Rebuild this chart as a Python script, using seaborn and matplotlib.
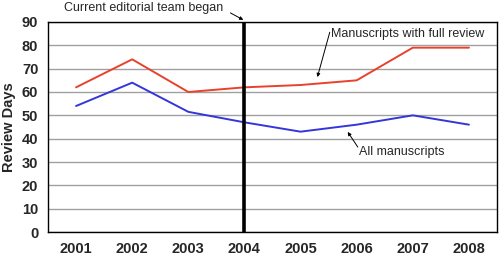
import numpy as np
import pandas as pd
import seaborn as sns
import matplotlib.pyplot as plt

## values
years = ["2001", "2002", "2003", "2004", "2005", "2006", "2007", "2008"]
full_review = [62, 74, 60, 62, 63, 65, 79, 79]
all_manuscripts = [54, 64, 51.5, 47, 43, 46, 50, 46]
team_start = "2004"

sns.set_style("white")
plt.rcParams['font.family'] = ['Liberation Sans', 'DejaVu Sans']

df = pd.DataFrame({"Year": years * 2,
                   "Days": full_review + all_manuscripts,
                   "Series": ["full"] * len(years) + ["all"] * len(years)})

fig = plt.figure(figsize=(4.99, 2.59), dpi=100)
ax = fig.add_axes([48 / 499, 27 / 259, 449 / 499, 210 / 259])

sns.lineplot(data=df, x="Year", y="Days", hue="Series", palette={"full": "#e8412c", "all": "#3535dc"},
             linewidth=1.4, ax=ax, legend=False)

ax.set_xlim(-0.5, len(years) - 0.5)
ax.set_ylim(0, 90)
ax.set_yticks(range(0, 91, 10))
ax.yaxis.grid(True, color="#a0a0a0", linewidth=1)
ax.set_axisbelow(True)
for s in ax.spines.values():
    s.set_color("black")
    s.set_linewidth(1)

ax.set_xticks(range(len(years)))
ax.set_xticklabels(years, fontsize=10.5, fontweight="bold")
ax.set_xticks(np.arange(-0.5, len(years), 1), minor=True)
ax.tick_params(axis="x", which="major", length=0, pad=7)
ax.tick_params(axis="x", which="minor", length=4, width=1, color="black", direction="out")
ax.tick_params(axis="y", length=4, width=1, color="black", direction="out", labelsize=10.5, pad=3)
for t in ax.get_yticklabels():
    t.set_fontweight("bold")
ax.set_xlabel("")
ax.set_ylabel("Review Days", fontsize=10.5, fontweight="bold", labelpad=4)

ax.axvline(years.index(team_start), color="black", linewidth=2.6, zorder=5)

## callout texts and their arrows
arrow = dict(arrowstyle="-|>", color="black", lw=0.7, mutation_scale=5, shrinkA=0, shrinkB=0)
ax.text(2.62, 96, "Current editorial team began", fontsize=9, ha="right", va="center", clip_on=False)
ax.annotate("", xy=(2.98, 90.9), xytext=(2.75, 93.9), annotation_clip=False, arrowprops=arrow)
ax.text(4.55, 84.9, "Manuscripts with full review", fontsize=9, ha="left", va="center")
ax.annotate("", xy=(4.30, 66.4), xytext=(4.52, 85.6), arrowprops=arrow)
ax.text(5.04, 34.3, "All manuscripts", fontsize=9, ha="left", va="center")
ax.annotate("", xy=(4.84, 42.9), xytext=(5.02, 36.4), arrowprops=arrow)

fig.savefig("out.png", dpi=100)
